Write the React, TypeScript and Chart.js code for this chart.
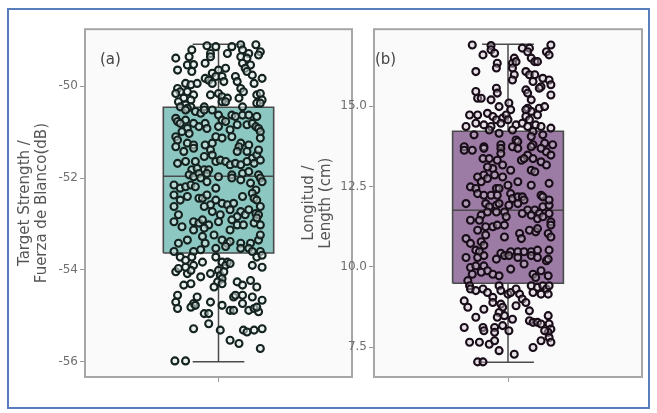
import { useEffect, useRef } from "react"
import { Chart, registerables } from "chart.js"

Chart.register(...registerables)

// x of each point is its horizontal jitter around the single category (box spans -0.62..0.62)
type Pt = [number, number]

// ---- panel (a): target strength (dB)
const A_TICKS = [-56, -54, -52, -50]
const A_RANGE = [-56.33, -48.76]
// min, q1, median, q3, max
const A_STATS = [-56.0, -53.63, -51.96, -50.46, -49.09]
const A_POINTS: Pt[] = [
  [-0.13, -49.12], [-0.3, -49.21], [-0.09, -49.29], [-0.03, -49.14], [0.15, -49.14], [0.25, -49.1],
  [0.42, -49.1], [0.27, -49.21], [0.47, -49.25], [0.34, -49.29], [-0.48, -49.39], [-0.33, -49.36],
  [-0.09, -49.36], [0.1, -49.29], [0.25, -49.36], [0.32, -49.39], [0.45, -49.32], [-0.35, -49.54],
  [-0.28, -49.53], [-0.15, -49.5], [0.0, -49.65], [0.08, -49.61], [0.27, -49.5], [0.36, -49.54],
  [0.3, -49.61], [-0.46, -49.65], [-0.3, -49.68], [-0.07, -49.72], [-0.03, -49.79], [0.04, -49.79],
  [-0.15, -49.83], [0.19, -49.79], [0.32, -49.68], [0.38, -49.76], [0.49, -49.83], [-0.37, -49.94],
  [-0.31, -49.97], [-0.24, -49.94], [-0.46, -50.05], [-0.11, -49.87], [-0.07, -49.94], [0.21, -49.9],
  [0.25, -50.05], [0.4, -49.94], [0.06, -49.9], [0.28, -50.12], [-0.43, -50.12], [-0.35, -50.12],
  [-0.48, -50.16], [-0.28, -50.19], [-0.09, -50.19], [0.0, -50.16], [0.04, -50.23], [-0.39, -50.26],
  [-0.31, -50.3], [0.1, -50.26], [0.23, -50.26], [0.43, -50.19], [0.47, -50.16], [0.49, -50.3],
  [-0.45, -50.34], [-0.37, -50.41], [-0.31, -50.45], [-0.16, -50.45], [0.04, -50.34], [0.08, -50.34],
  [0.27, -50.45], [0.43, -50.37], [0.47, -50.37], [-0.43, -50.45], [-0.35, -50.48], [-0.37, -50.52],
  [-0.26, -50.55], [-0.2, -50.59], [-0.16, -50.52], [-0.07, -50.52], [0.0, -50.63], [0.04, -50.74],
  [0.15, -50.63], [0.19, -50.66], [0.27, -50.63], [0.34, -50.63], [0.43, -50.66], [-0.48, -50.7],
  [-0.37, -50.74], [-0.46, -50.77], [-0.43, -50.81], [-0.28, -50.81], [-0.15, -50.81], [-0.13, -50.92],
  [0.08, -50.77], [0.21, -50.84], [0.32, -50.84], [0.38, -50.81], [0.42, -50.88], [-0.35, -50.92],
  [-0.22, -50.88], [0.0, -50.88], [0.13, -50.95], [0.45, -50.92], [-0.41, -50.99], [-0.33, -51.03],
  [0.47, -50.99], [-0.48, -51.1], [-0.03, -51.1], [0.04, -51.13], [0.15, -51.1], [-0.15, -51.28],
  [-0.07, -51.24], [-0.35, -51.24], [-0.28, -51.28], [0.25, -51.24], [0.34, -51.28], [0.47, -51.13],
  [-0.46, -51.17], [-0.48, -51.32], [-0.39, -51.42], [-0.28, -51.35], [-0.09, -51.39], [-0.16, -51.53],
  [-0.07, -51.5], [0.23, -51.32], [0.21, -51.42], [0.32, -51.42], [0.38, -51.57], [0.43, -51.5],
  [0.45, -51.39], [-0.46, -51.68], [-0.37, -51.64], [-0.26, -51.64], [-0.03, -51.64], [0.02, -51.61],
  [0.08, -51.64], [0.13, -51.71], [0.19, -51.68], [0.25, -51.71], [0.32, -51.64], [0.4, -51.68],
  [0.47, -51.61], [-0.16, -51.82], [-0.11, -51.82], [-0.3, -51.82], [-0.24, -51.79], [-0.33, -51.93],
  [-0.28, -51.97], [-0.22, -51.9], [-0.13, -51.9], [0.0, -51.97], [0.15, -51.93], [0.15, -52.0],
  [0.27, -51.9], [0.34, -51.86], [0.45, -51.93], [0.47, -52.0], [-0.5, -52.15], [-0.43, -52.22],
  [-0.37, -52.19], [-0.31, -52.15], [-0.26, -52.19], [-0.2, -52.0], [-0.13, -52.08], [-0.03, -52.22],
  [0.25, -52.04], [0.36, -52.11], [0.42, -52.26], [0.49, -52.08], [-0.5, -52.37], [-0.35, -52.4],
  [-0.22, -52.44], [-0.18, -52.44], [-0.13, -52.37], [-0.03, -52.48], [0.04, -52.55], [0.1, -52.58],
  [0.17, -52.55], [0.27, -52.4], [0.38, -52.33], [0.4, -52.44], [0.43, -52.48], [-0.09, -52.58],
  [-0.43, -52.48], [-0.5, -52.62], [-0.16, -52.62], [-0.07, -52.73], [0.02, -52.8], [0.13, -52.69],
  [0.25, -52.73], [0.3, -52.8], [0.42, -52.77], [0.45, -52.8], [0.47, -52.62], [-0.45, -52.8],
  [0.21, -52.84], [0.34, -52.69], [-0.5, -52.95], [-0.41, -53.06], [-0.28, -52.95], [-0.22, -52.98],
  [-0.18, -52.91], [-0.11, -53.02], [0.0, -52.95], [0.15, -52.91], [0.21, -53.02], [0.28, -53.02],
  [0.4, -52.98], [0.43, -52.87], [0.47, -53.02], [-0.28, -53.13], [-0.16, -53.09], [0.13, -53.13],
  [-0.35, -53.35], [-0.18, -53.27], [-0.15, -53.42], [-0.05, -53.24], [0.04, -53.35], [0.1, -53.42],
  [0.13, -53.38], [0.25, -53.42], [0.36, -53.42], [0.45, -53.35], [-0.45, -53.42], [0.47, -53.24],
  [-0.5, -53.6], [-0.28, -53.6], [-0.2, -53.56], [-0.03, -53.53], [0.08, -53.49], [0.25, -53.53],
  [0.34, -53.53], [0.38, -53.6], [0.47, -53.6], [-0.43, -53.72], [-0.37, -53.79], [-0.3, -53.72],
  [-0.28, -53.9], [-0.18, -53.83], [-0.03, -53.72], [0.04, -53.83], [0.1, -53.83], [0.08, -53.9],
  [0.13, -53.86], [0.43, -53.72], [0.49, -53.68], [-0.48, -54.04], [-0.45, -53.97], [-0.35, -54.08],
  [-0.31, -54.01], [-0.37, -53.94], [-0.2, -54.15], [-0.09, -54.08], [0.0, -54.01], [0.02, -54.12],
  [0.04, -54.19], [-0.01, -54.26], [-0.05, -54.37], [0.04, -54.3], [0.06, -54.04], [0.38, -53.9],
  [0.49, -53.94], [-0.39, -54.33], [-0.31, -54.3], [0.21, -54.26], [0.27, -54.33], [0.36, -54.23],
  [0.43, -54.37], [-0.46, -54.55], [-0.48, -54.7], [-0.46, -54.84], [-0.24, -54.59], [-0.28, -54.73],
  [-0.31, -54.81], [-0.26, -54.77], [-0.09, -54.7], [0.04, -54.77], [0.17, -54.59], [0.19, -54.55],
  [0.27, -54.55], [0.27, -54.73], [0.38, -54.59], [0.49, -54.66], [0.34, -54.88], [0.4, -54.84],
  [0.45, -54.91], [0.43, -54.81], [0.13, -54.88], [0.17, -54.88], [-0.16, -54.95], [-0.11, -54.95],
  [-0.11, -55.17], [-0.28, -55.28], [0.02, -55.31], [0.28, -55.31], [0.32, -55.35], [0.4, -55.31],
  [0.49, -55.28], [0.13, -55.53], [0.23, -55.6], [0.47, -55.71], [-0.49, -55.98], [-0.37, -55.98],
]

// ---- panel (b): length (cm)
const B_TICKS = [7.5, 10.0, 12.5, 15.0]
const B_RANGE = [6.57, 17.4]
const B_STATS = [7.03, 9.49, 11.76, 14.22, 16.93]
const B_POINTS: Pt[] = [
  [-0.4, 16.91], [-0.19, 16.89], [-0.19, 16.76], [-0.15, 16.65], [-0.28, 16.6], [0.16, 16.81],
  [0.24, 16.81], [0.22, 16.7], [0.48, 16.91], [0.43, 16.7], [0.46, 16.6], [0.26, 16.5],
  [0.3, 16.39], [0.33, 16.39], [0.07, 16.5], [-0.12, 16.34], [0.05, 16.34], [0.09, 16.39],
  [-0.13, 16.19], [0.05, 16.19], [-0.36, 16.08], [0.2, 16.08], [0.24, 15.98], [0.3, 15.98],
  [0.39, 15.87], [0.46, 15.82], [0.07, 15.98], [0.05, 15.82], [0.28, 15.77], [0.48, 15.67],
  [-0.13, 15.56], [-0.12, 15.41], [-0.36, 15.46], [-0.34, 15.25], [-0.3, 15.25], [-0.19, 15.2],
  [0.37, 15.61], [0.35, 15.56], [0.2, 15.51], [0.22, 15.41], [0.26, 15.2], [0.48, 15.35],
  [0.01, 15.1], [0.03, 14.89], [-0.1, 14.99], [0.22, 14.94], [0.26, 14.84], [0.35, 14.94],
  [0.41, 14.99], [0.2, 14.89], [-0.43, 14.73], [-0.34, 14.73], [-0.23, 14.78], [-0.17, 14.68],
  [-0.13, 14.58], [-0.06, 14.63], [-0.02, 14.73], [0.0, 14.58], [0.2, 14.68], [0.24, 14.58],
  [0.33, 14.73], [-0.36, 14.47], [-0.47, 14.37], [-0.27, 14.42], [-0.19, 14.37], [-0.08, 14.47],
  [0.09, 14.42], [0.16, 14.47], [0.22, 14.37], [0.31, 14.42], [0.37, 14.37], [0.48, 14.32],
  [0.05, 14.26], [-0.21, 14.26], [0.28, 14.21], [-0.1, 14.16], [0.39, 14.11], [-0.38, 14.11],
  [0.09, 13.95], [0.11, 13.9], [0.26, 14.06], [-0.49, 13.74], [-0.27, 13.74], [-0.08, 13.8],
  [0.05, 13.74], [0.28, 13.8], [0.41, 13.85], [0.5, 13.8], [-0.49, 13.63], [-0.4, 13.63],
  [-0.27, 13.69], [-0.08, 13.69], [-0.08, 13.53], [0.11, 13.69], [0.26, 13.74], [0.37, 13.69],
  [0.43, 13.58], [0.48, 13.48], [0.22, 13.48], [0.15, 13.32], [0.18, 13.37], [0.28, 13.37],
  [-0.28, 13.37], [-0.21, 13.37], [-0.12, 13.32], [0.37, 13.27], [0.43, 13.17], [-0.17, 13.06],
  [-0.23, 13.11], [-0.06, 13.17], [0.03, 13.01], [0.26, 13.01], [0.3, 12.96], [-0.34, 12.8],
  [-0.27, 12.86], [-0.15, 12.86], [-0.06, 12.8], [-0.23, 12.75], [-0.3, 12.65], [-0.42, 12.49],
  [-0.36, 12.44], [-0.13, 12.44], [-0.1, 12.44], [0.0, 12.54], [0.11, 12.65], [0.26, 12.54],
  [0.46, 12.6], [-0.34, 12.28], [-0.27, 12.23], [-0.19, 12.23], [-0.12, 12.23], [0.03, 12.28],
  [0.05, 12.13], [0.11, 12.18], [0.16, 12.18], [0.18, 12.08], [0.37, 12.23], [0.39, 12.18],
  [-0.47, 11.97], [-0.25, 11.97], [-0.21, 11.87], [-0.13, 11.92], [-0.1, 11.97], [0.01, 11.92],
  [0.11, 11.97], [0.22, 11.77], [0.3, 11.77], [0.39, 11.87], [0.46, 11.92], [0.46, 12.08],
  [-0.23, 11.71], [-0.13, 11.71], [-0.04, 11.71], [-0.3, 11.61], [-0.32, 11.45], [-0.42, 11.45],
  [-0.02, 11.56], [0.16, 11.66], [0.26, 11.61], [0.35, 11.66], [0.33, 11.5], [0.39, 11.56],
  [0.46, 11.66], [0.48, 11.4], [0.48, 11.3], [-0.25, 11.25], [-0.17, 11.25], [-0.12, 11.3],
  [-0.04, 11.3], [-0.34, 11.14], [0.24, 11.14], [0.31, 11.09], [0.33, 11.19], [0.45, 11.04],
  [0.48, 10.93], [0.13, 11.04], [0.15, 10.88], [-0.04, 10.93], [-0.25, 10.99], [-0.47, 10.88],
  [-0.42, 10.73], [-0.3, 10.78], [-0.27, 10.67], [-0.36, 10.52], [-0.32, 10.47], [-0.08, 10.42],
  [0.03, 10.47], [0.11, 10.47], [0.18, 10.47], [0.26, 10.47], [0.33, 10.52], [0.46, 10.52],
  [-0.47, 10.29], [-0.34, 10.29], [-0.27, 10.35], [-0.13, 10.24], [-0.04, 10.35], [0.01, 10.35],
  [0.11, 10.29], [0.26, 10.35], [0.33, 10.29], [0.43, 10.19], [0.45, 10.24], [-0.42, 9.98],
  [-0.36, 10.03], [-0.27, 10.03], [-0.23, 9.88], [-0.3, 9.83], [-0.17, 9.77], [-0.4, 9.77],
  [0.03, 9.93], [0.18, 10.09], [0.28, 9.77], [0.37, 9.88], [0.45, 9.72], [0.31, 9.67],
  [-0.1, 9.72], [-0.45, 9.57], [-0.43, 9.41], [-0.42, 9.31], [-0.36, 9.26], [-0.28, 9.31],
  [-0.23, 9.2], [-0.17, 9.05], [-0.1, 9.41], [-0.08, 9.26], [0.0, 9.15], [0.03, 9.2],
  [0.09, 9.31], [0.13, 9.15], [0.16, 9.0], [0.2, 8.89], [0.26, 9.41], [0.33, 9.36],
  [0.39, 9.41], [0.43, 9.31], [0.46, 9.41], [0.28, 9.2], [0.37, 9.15], [0.45, 9.15],
  [-0.49, 8.94], [-0.45, 8.74], [-0.27, 8.68], [-0.36, 8.43], [-0.17, 8.89], [-0.08, 8.84],
  [-0.06, 8.74], [-0.1, 8.58], [-0.12, 8.43], [-0.04, 8.48], [0.05, 8.37], [0.09, 8.79],
  [0.24, 8.63], [0.24, 8.32], [0.28, 8.27], [0.33, 8.27], [0.37, 8.22], [0.45, 8.48],
  [0.46, 8.22], [0.48, 8.06], [0.45, 7.96], [0.41, 8.01], [-0.49, 8.11], [-0.28, 8.11],
  [-0.27, 8.01], [-0.15, 8.11], [-0.15, 7.96], [-0.06, 8.17], [0.01, 8.01], [-0.43, 7.65],
  [-0.32, 7.65], [-0.21, 7.59], [-0.15, 7.7], [-0.1, 7.39], [0.07, 7.28], [0.28, 7.49],
  [0.37, 7.7], [0.46, 7.8], [0.48, 7.65], [-0.34, 7.04], [-0.28, 7.04],
]

const BOX_HALF = 0.62
const CAP_HALF = 0.29
const FONT = "'DejaVu Sans', Verdana, sans-serif"

function segment(pts: Pt[], color: string, width: number, order: number) {
  return {
    data: pts.map(([x, y]) => ({ x, y })),
    showLine: true,
    borderColor: color,
    borderWidth: width,
    pointRadius: 0,
    fill: false,
    tension: 0,
    order,
  }
}

const framePlugin = {
  id: "frame",
  beforeDraw(chart: Chart) {
    const { ctx, chartArea: a } = chart
    ctx.save()
    ctx.fillStyle = "#fafafa"
    ctx.fillRect(a.left, a.top, a.right - a.left, a.bottom - a.top)
    ctx.restore()
  },
  afterDraw(chart: Chart) {
    const { ctx, chartArea: a } = chart
    ctx.save()
    ctx.strokeStyle = "#a6a6a6"
    ctx.lineWidth = 2
    ctx.strokeRect(a.left, a.top, a.right - a.left, a.bottom - a.top)
    ctx.restore()
  },
}

interface PanelProps {
  points: Pt[]
  stats: number[]
  ticks: number[]
  range: number[]
  decimals: number
  title: string[]
  titlePad: number
  axisWidth: number
  boxColor: string
  pointFill: string
  pointEdge: string
  left: number
}

function Panel(p: PanelProps) {
  const canvasRef = useRef<HTMLCanvasElement>(null)
  const chartRef = useRef<Chart | null>(null)

  useEffect(() => {
    if (!canvasRef.current) return
    if (chartRef.current) chartRef.current.destroy()

    const [lo, q1, med, q3, hi] = p.stats
    const edge = "#4a4a4a"

    chartRef.current = new Chart(canvasRef.current, {
      type: "line",
      data: {
        datasets: [
          {
            data: p.points.map(([x, y]) => ({ x, y })),
            showLine: false,
            pointRadius: 3.5,
            pointBorderWidth: 2.1,
            pointBackgroundColor: p.pointFill,
            pointBorderColor: p.pointEdge,
            order: 0,
          },
          segment([[0, q3], [0, hi]], edge, 1.5, 1),
          segment([[0, q1], [0, lo]], edge, 1.5, 1),
          segment([[-CAP_HALF, hi], [CAP_HALF, hi]], edge, 1.5, 1),
          segment([[-CAP_HALF, lo], [CAP_HALF, lo]], edge, 1.5, 1),
          segment([[-BOX_HALF, med], [BOX_HALF, med]], edge, 1.5, 2),
          segment(
            [[-BOX_HALF, q1], [BOX_HALF, q1], [BOX_HALF, q3], [-BOX_HALF, q3], [-BOX_HALF, q1]],
            edge,
            1.6,
            3
          ),
          {
            data: [{ x: -BOX_HALF, y: q3 }, { x: BOX_HALF, y: q3 }],
            showLine: true,
            borderWidth: 0,
            borderColor: "rgba(0,0,0,0)",
            backgroundColor: p.boxColor,
            pointRadius: 0,
            fill: { value: q1 },
            order: 4,
          },
        ],
      },
      options: {
        animation: false,
        responsive: false,
        events: [],
        layout: { padding: { top: 9, right: 8, bottom: 0, left: 0 } },
        plugins: { legend: { display: false }, tooltip: { enabled: false } },
        scales: {
          x: {
            type: "linear",
            min: -1.5,
            max: 1.5,
            afterBuildTicks: (scale: any) => {
              scale.ticks = [{ value: 0 }]
            },
            afterFit: (scale: any) => {
              scale.height = 18
            },
            ticks: { callback: () => "", padding: 0 },
            grid: { drawOnChartArea: false, drawTicks: true, tickLength: 5, color: "#999" },
            border: { display: false },
          },
          y: {
            type: "linear",
            min: p.range[0],
            max: p.range[1],
            afterBuildTicks: (scale: any) => {
              scale.ticks = p.ticks.map((v) => ({ value: v }))
            },
            afterFit: (scale: any) => {
              scale.width = p.axisWidth
            },
            ticks: {
              callback: (v: any) => Number(v).toFixed(p.decimals),
              color: "#6f6f6f",
              padding: 2,
              font: { family: FONT, size: 12 },
            },
            grid: { drawOnChartArea: false, drawTicks: true, tickLength: 5, color: "#999" },
            border: { display: false },
            title: {
              display: true,
              text: p.title,
              color: "#555",
              padding: { top: p.titlePad, bottom: 0 },
              font: { family: FONT, size: 15, lineHeight: 1.15 },
            },
          },
        },
      },
      plugins: [framePlugin],
    } as any)

    return () => {
      if (chartRef.current) {
        chartRef.current.destroy()
        chartRef.current = null
      }
    }
  }, [p])

  return (
    <canvas
      ref={canvasRef}
      width={360}
      height={375}
      style={{ position: "absolute", left: p.left, top: 20, width: 360, height: 375 }}
    />
  )
}

const labelStyle: React.CSSProperties = {
  position: "absolute",
  fontFamily: FONT,
  fontSize: 15,
  color: "#444",
  lineHeight: "18px",
}

export default function App() {
  return (
    <div style={{ position: "absolute", left: 0, top: 0, width: 657, height: 413, background: "#fff" }}>
      <div
        style={{
          position: "absolute",
          left: 7,
          top: 8,
          width: 643,
          height: 401,
          border: "2px solid #5a7dbb",
          boxSizing: "border-box",
        }}
      />
      <Panel
        points={A_POINTS}
        stats={A_STATS}
        ticks={A_TICKS}
        range={A_RANGE}
        decimals={0}
        title={["Target Strength /", "Fuerza de Blanco(dB)"]}
        titlePad={16}
        axisWidth={85}
        boxColor="#8cc7c2"
        pointFill="rgba(222,234,231,0.55)"
        pointEdge="#14231f"
        left={0}
      />
      <Panel
        points={B_POINTS}
        stats={B_STATS}
        ticks={B_TICKS}
        range={B_RANGE}
        decimals={1}
        title={["Longitud /", "Length (cm)"]}
        titlePad={10}
        axisWidth={84}
        boxColor="#9c7ba4"
        pointFill="rgba(205,195,205,0.45)"
        pointEdge="#1a0d1a"
        left={290}
      />
      <span style={{ ...labelStyle, left: 100, top: 50 }}>(a)</span>
      <span style={{ ...labelStyle, left: 375, top: 50 }}>(b)</span>
    </div>
  )
}
